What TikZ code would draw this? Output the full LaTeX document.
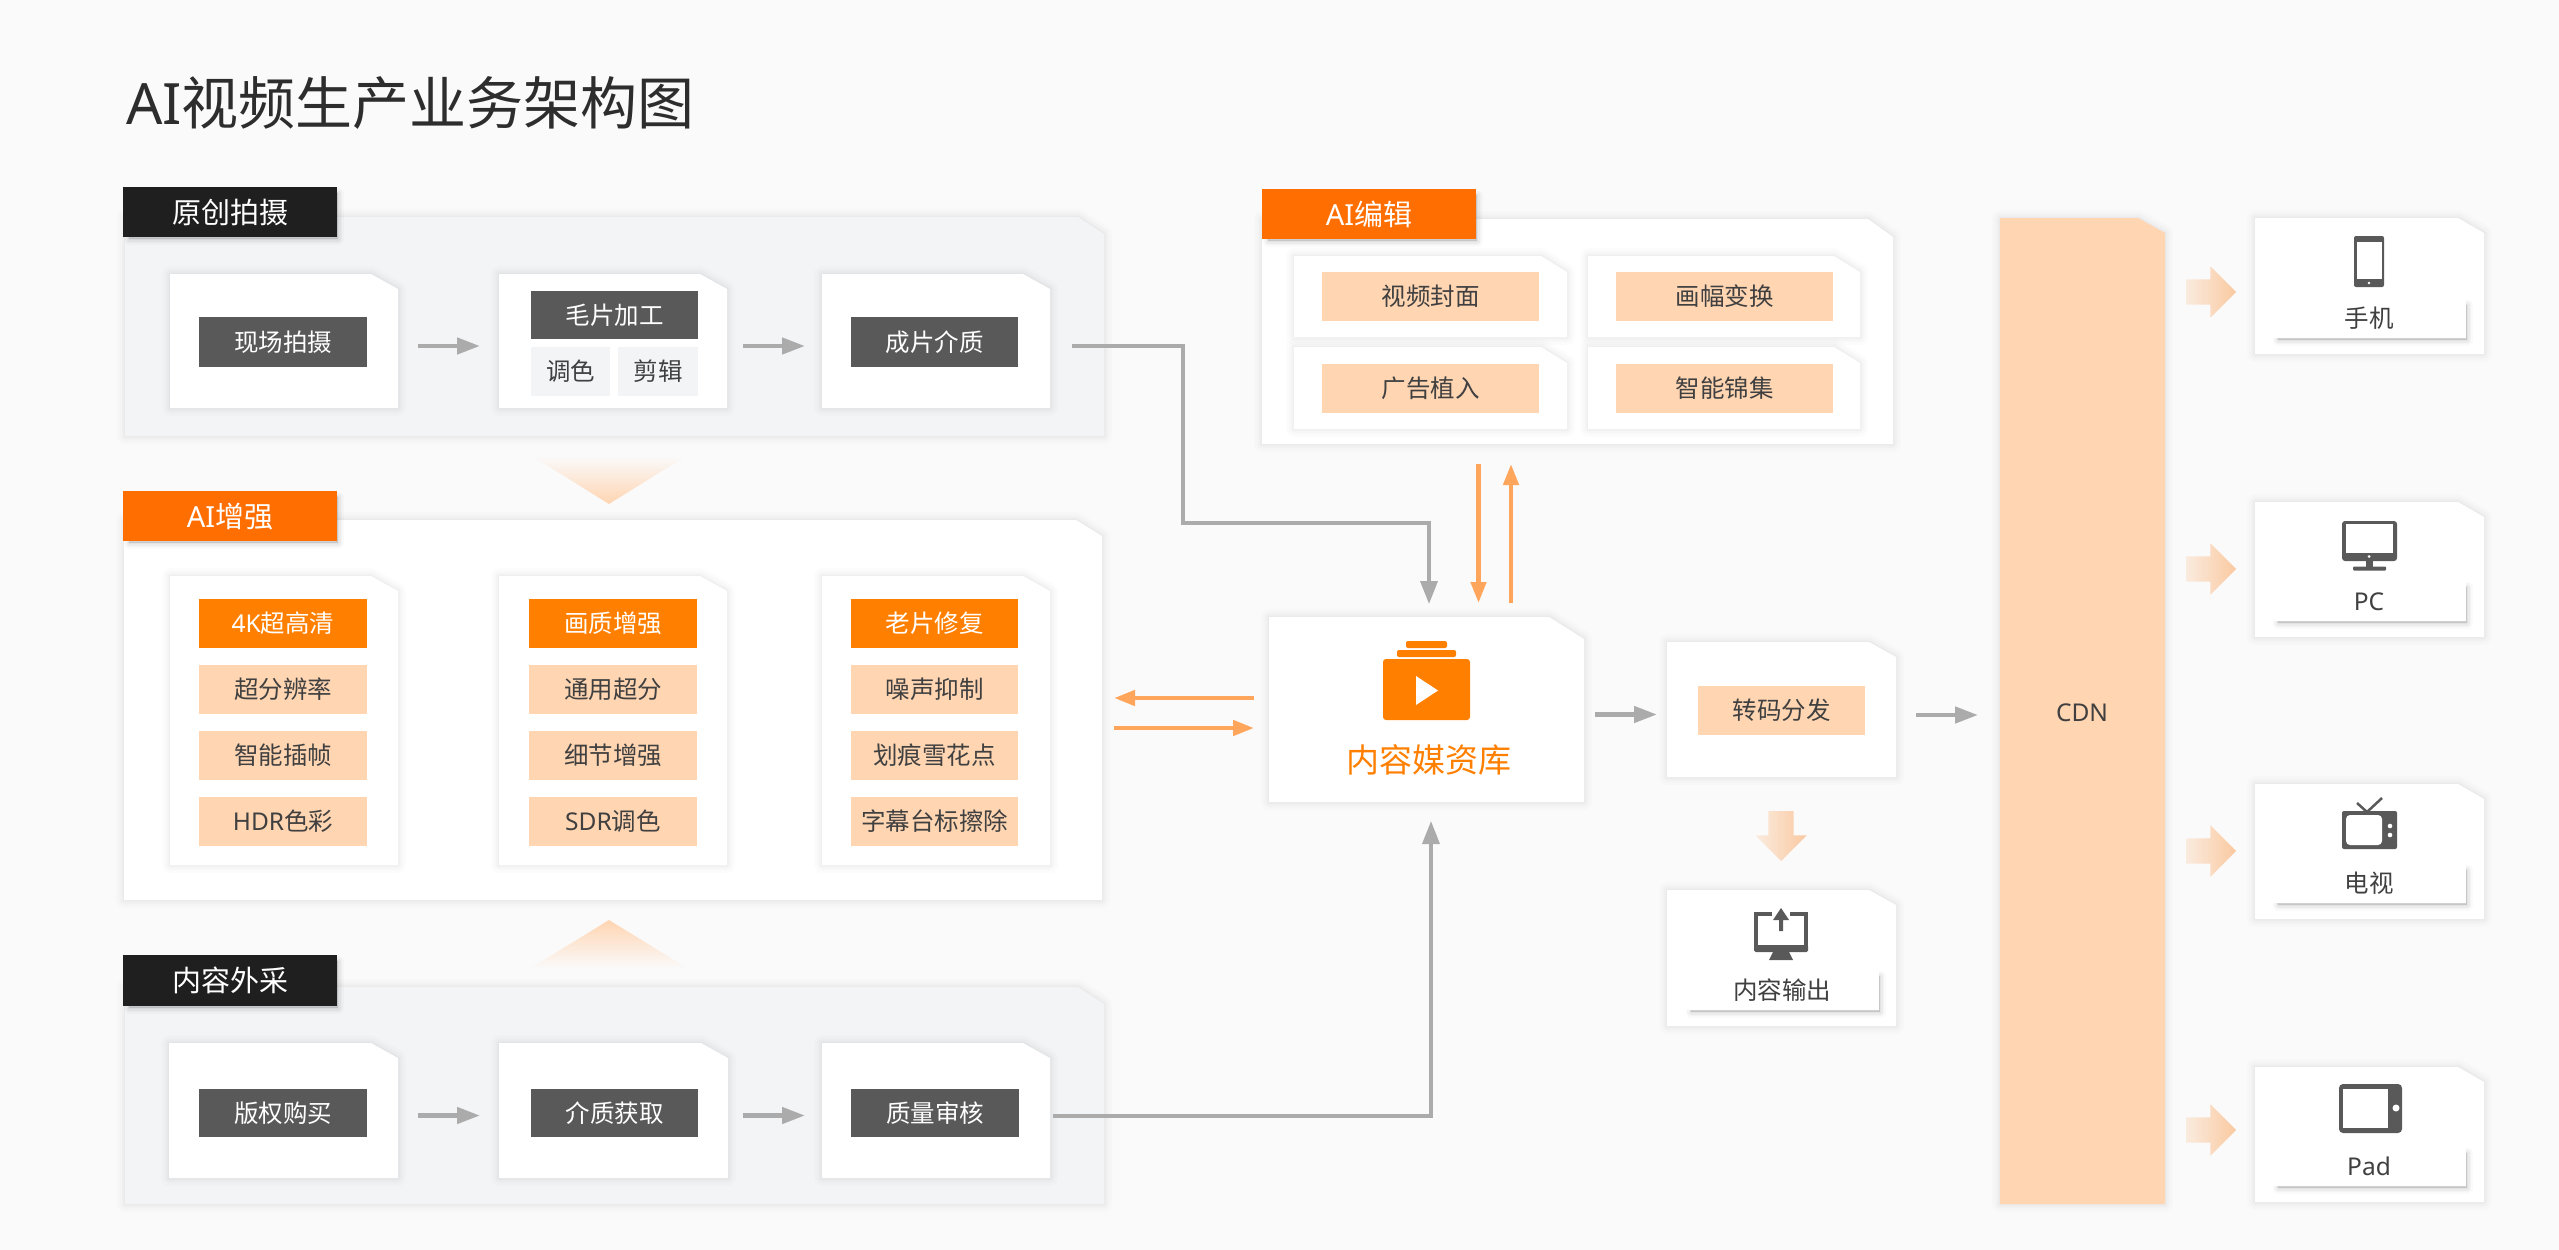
\documentclass[tikz,border=0pt]{standalone}
\usepackage{fontspec}
\setmainfont{Noto Sans CJK SC}
\newfontfamily\lat{Noto Sans}
\usetikzlibrary{arrows.meta,shapes.arrows,calc}
\definecolor{bgc}{HTML}{FAFAFA}
\definecolor{panelgrey}{HTML}{F3F4F6}
\definecolor{peach}{HTML}{FFD5B2}
\definecolor{fatc}{HTML}{FAC9A0}
\definecolor{tagorange}{HTML}{FF6E00}
\definecolor{boxorange}{HTML}{FF8000}
\definecolor{tagblack}{HTML}{1F1F1F}
\definecolor{boxdark}{HTML}{595959}
\definecolor{txt}{HTML}{404040}
\definecolor{greyarrow}{HTML}{ABABAB}
\definecolor{orangearrow}{HTML}{FFA55C}
\definecolor{icon}{HTML}{595959}
\tikzset{
  anchorbox/.style={inner sep=0pt,outer sep=0pt,draw=none,fill=none},
  basebox/.style={anchorbox,align=center,text height=19.6pt,text depth=1pt},
  tagtext/.style={font=\fontsize{29}{34}\selectfont,text=white,text height=23.2pt,text depth=1.2pt},
  tagblackbox/.style={basebox,tagtext,fill=tagblack},
  tagorangebox/.style={basebox,tagtext,fill=tagorange},
  darkbox/.style={basebox,font=\fontsize{24.5}{30}\selectfont,text=white,fill=boxdark},
  orangebox/.style={basebox,font=\fontsize{24.5}{30}\selectfont,text=white,fill=boxorange},
  peachbox/.style={basebox,font=\fontsize{24.5}{30}\selectfont,text=txt,fill=peach},
  greybox/.style={basebox,font=\fontsize{24.5}{30}\selectfont,text=txt,fill=panelgrey},
  whitebox/.style={basebox,font=\fontsize{24.5}{30}\selectfont,text=txt,fill=white},
  greyflow/.style={draw=greyarrow,line width=4.5pt,-{Triangle[length=23pt,width=16pt]}},
  greyline/.style={draw=greyarrow,line width=3.5pt,line join=miter,-{Triangle[length=23pt,width=17pt]}},
  orangeflow/.style={draw=orangearrow,line width=4.5pt,-{Triangle[length=21pt,width=15pt]}},
  fatarrow/.style={single arrow,inner sep=12.5pt,outer sep=0pt,minimum height=50pt,
    single arrow head extend=13pt,single arrow head indent=0pt,draw=none,anchor=tip,
    left color=fatc!30!bgc,middle color=fatc!80!bgc,right color=fatc},
  iconfill/.style={fill=icon,draw=none},
}
% name, x1,y1,x2,y2, cut x, cut y, fill
\newcommand{\cutbox}[8]{%
  \foreach \w/\o in {16/.010,11/.012,7/.016,3/.025}{%
    \draw[black,line width=\w pt,opacity=\o,line join=round]
      (#2,#3) -- ({#4-#6},#3) -- (#4,{#3+#7}) -- (#4,#5) -- (#2,#5) -- cycle;}
  \fill[#8] (#2,#3) -- ({#4-#6},#3) -- (#4,{#3+#7}) -- (#4,#5) -- (#2,#5) -- cycle;
  \node[anchorbox,minimum width={(#4-#2)*1pt},minimum height={(#5-#3)*1pt}] (#1) at ({(#2+#4)/2},{(#3+#5)/2}) {};
}
% name, x1,y1,x2,y2, style, text
\newcommand{\txtbox}[7]{%
  \node[#6,minimum width={(#4-#2)*1pt},minimum height={(#5-#3)*1pt}] (#1) at ({(#2+#4)/2},{(#3+#5)/2}) {#7};
}
% x1,y1,x2,y2: raised shadow, down and to the right
\newcommand{\raised}[4]{%
  \foreach \w/\o in {11/.02,8/.025,5/.03,2/.04}{%
    \draw[black,fill=black,line width=\w pt,opacity=\o,line join=round] ({#1+6},{#2+6}) rectangle ({#3+1},{#4+2});}
}
\begin{document}
\begin{tikzpicture}[x=1pt,y=-1pt]
\useasboundingbox (0,0) rectangle (2559,1250);
\fill[bgc] (0,0) rectangle (2559,1250);

\node[anchor=west,inner sep=0pt,font=\fontsize{57}{66}\selectfont,text=txt!70!black] (title) at (126,103) {{\lat AI}视频生产业务架构图};

% ---- panels
\cutbox{p1}{125}{217}{1104}{436}{26}{17}{panelgrey}
\cutbox{p2}{124}{520}{1102}{900}{26}{16}{white}
\cutbox{p3}{125}{987}{1104}{1204}{26}{17}{panelgrey}
\cutbox{p4}{1262}{219}{1893}{444}{25}{18}{white}

% ---- gradient triangles
\shade[top color=bgc,bottom color=peach] (532,456) -- (686,456) -- (609,504) -- cycle;
\shade[top color=peach,bottom color=bgc] (609,920) -- (687,968) -- (531,968) -- cycle;

% ---- tags
\raised{123}{187}{337}{237}
\txtbox{t1}{123}{187}{337}{237}{tagblackbox}{原创拍摄}
\raised{123}{491}{337}{541}
\txtbox{t2}{123}{491}{337}{541}{tagorangebox}{{\lat AI}增强}
\raised{123}{955}{337}{1006}
\txtbox{t3}{123}{955}{337}{1006}{tagblackbox}{内容外采}
\raised{1262}{189}{1476}{239}
\txtbox{t4}{1262}{189}{1476}{239}{tagorangebox}{{\lat AI}编辑}

% ---- row 1
\cutbox{a1}{170}{274}{398}{408}{27}{15}{white}
\cutbox{a2}{499}{274}{727}{408}{27}{15}{white}
\cutbox{a3}{822}{274}{1050}{408}{27}{15}{white}
\txtbox{a1t}{199}{317}{367}{367}{darkbox}{现场拍摄}
\txtbox{a2t}{531}{291}{698}{339}{darkbox}{毛片加工}
\txtbox{a2l}{531}{347}{610}{396}{greybox}{调色}
\txtbox{a2r}{618}{347}{698}{396}{greybox}{剪辑}
\txtbox{a3t}{851}{317}{1018}{367}{darkbox}{成片介质}

% ---- row 2
\cutbox{b1}{170}{576}{398}{865}{27}{15}{white}
\cutbox{b2}{499}{576}{727}{865}{27}{15}{white}
\cutbox{b3}{822}{576}{1050}{865}{27}{15}{white}
\txtbox{b11}{199}{599}{367}{648}{orangebox}{{\lat 4K}超高清}
\txtbox{b12}{199}{665}{367}{714}{peachbox}{超分辨率}
\txtbox{b13}{199}{731}{367}{780}{peachbox}{智能插帧}
\txtbox{b14}{199}{797}{367}{846}{peachbox}{{\lat HDR}色彩}
\txtbox{b21}{529}{599}{697}{648}{orangebox}{画质增强}
\txtbox{b22}{529}{665}{697}{714}{peachbox}{通用超分}
\txtbox{b23}{529}{731}{697}{780}{peachbox}{细节增强}
\txtbox{b24}{529}{797}{697}{846}{peachbox}{{\lat SDR}调色}
\txtbox{b31}{851}{599}{1018}{648}{orangebox}{老片修复}
\txtbox{b32}{851}{665}{1018}{714}{peachbox}{噪声抑制}
\txtbox{b33}{851}{731}{1018}{780}{peachbox}{划痕雪花点}
\txtbox{b34}{851}{797}{1018}{846}{peachbox}{字幕台标擦除}

% ---- row 3
\cutbox{c1}{169}{1043}{398}{1178}{27}{15}{white}
\cutbox{c2}{499}{1043}{728}{1178}{27}{15}{white}
\cutbox{c3}{822}{1043}{1050}{1178}{27}{15}{white}
\txtbox{c1t}{199}{1089}{367}{1137}{darkbox}{版权购买}
\txtbox{c2t}{531}{1089}{698}{1137}{darkbox}{介质获取}
\txtbox{c3t}{851}{1089}{1019}{1137}{darkbox}{质量审核}

% ---- AI edit
\cutbox{e1}{1294}{256}{1567}{337}{26}{16}{white}
\cutbox{e2}{1588}{256}{1860}{337}{26}{16}{white}
\cutbox{e3}{1294}{347}{1567}{429}{26}{16}{white}
\cutbox{e4}{1588}{347}{1860}{429}{26}{16}{white}
\txtbox{e1t}{1322}{272}{1539}{321}{peachbox}{视频封面}
\txtbox{e2t}{1616}{272}{1833}{321}{peachbox}{画幅变换}
\txtbox{e3t}{1322}{364}{1539}{413}{peachbox}{广告植入}
\txtbox{e4t}{1616}{364}{1833}{413}{peachbox}{智能锦集}

% ---- media library
\cutbox{m}{1269}{617}{1584}{802}{35}{22}{white}
\fill[boxorange,rounded corners=2pt] (1406,641) rectangle (1447,648);
\fill[boxorange,rounded corners=2pt] (1397,650) rectangle (1456,657);
\fill[boxorange,rounded corners=3pt] (1383,659) rectangle (1470,720);
\fill[white] (1416,676) -- (1438,690.5) -- (1416,705) -- cycle;
\node[inner sep=0pt,font=\fontsize{33}{38}\selectfont,text=boxorange,text height=26.4pt,text depth=1.3pt] (mt) at (1429,760) {内容媒资库};

% ---- transcode and output
\cutbox{x}{1667}{642}{1896}{777}{27}{15}{white}
\txtbox{xt}{1698}{686}{1865}{735}{peachbox}{转码分发}
\cutbox{o}{1667}{890}{1896}{1026}{27}{15}{white}
\draw[icon,line width=4pt] (1772,914) -- (1756,914) -- (1756,948) -- (1806,948) -- (1806,914) -- (1790,914);
\fill[icon,rounded corners=1.5pt] (1754,945) rectangle (1808,952);
\fill[icon] (1773,952) -- (1789,952) -- (1793,960) -- (1769,960) -- cycle;
\fill[icon] (1781,908) -- (1789,920) -- (1783,920) -- (1783,931) -- (1779,931) -- (1779,920) -- (1773,920) -- cycle;
\raised{1685}{970}{1879}{1010}
\txtbox{ot}{1685}{970}{1879}{1010}{whitebox}{内容输出}

% ---- CDN
\cutbox{cdn}{2000}{218}{2165}{1204}{27}{15}{peach}
\node[inner sep=0pt,font=\fontsize{24.5}{30}\selectfont\lat,text=txt] (cdnt) at (2082,713) {CDN};

% ---- devices
\cutbox{d1}{2255}{218}{2484}{354}{26}{15}{white}
\cutbox{d2}{2255}{502}{2484}{637}{26}{15}{white}
\cutbox{d3}{2255}{784}{2484}{919}{26}{15}{white}
\cutbox{d4}{2255}{1067}{2484}{1202}{26}{15}{white}
\raised{2272}{299}{2466}{338}
\txtbox{d1t}{2272}{299}{2466}{338}{whitebox}{手机}
\raised{2272}{581}{2466}{621}
\txtbox{d2t}{2272}{581}{2466}{621}{whitebox}{\lat PC}
\raised{2272}{864}{2466}{903}
\txtbox{d3t}{2272}{864}{2466}{903}{whitebox}{电视}
\raised{2272}{1147}{2466}{1186}
\txtbox{d4t}{2272}{1147}{2466}{1186}{whitebox}{\lat Pad}

% phone
\fill[icon,rounded corners=2pt] (2354,236) rectangle (2384,287);
\fill[white] (2357,242) rectangle (2382,279);
\fill[white] (2369,283) circle (1.3);
% pc
\fill[icon,rounded corners=3pt] (2342,521) rectangle (2397,561);
\fill[white] (2346,524) rectangle (2393,553);
\fill[white] (2369,556.5) circle (1.5);
\fill[icon] (2366,561) rectangle (2373,568);
\fill[icon,rounded corners=1pt] (2353,566.5) rectangle (2386,570.5);
% tv
\draw[icon,line width=2.5pt] (2357,803) -- (2367,812) -- (2382,798);
\fill[icon,rounded corners=2pt] (2342,811) rectangle (2397,849);
\fill[white,rounded corners=4pt] (2346,815) rectangle (2382,845);
\fill[white] (2390,826) circle (2.3);
\fill[white] (2390,835) circle (2.3);
% pad
\fill[icon,rounded corners=4pt] (2339,1084) rectangle (2402,1133);
\fill[white] (2343,1089) rectangle (2388,1128);
\fill[white] (2396,1108) circle (3.5);

% ---- fat gradient arrows
\node[fatarrow] (f1) at (2236,292) {};
\node[fatarrow] (f2) at (2236,569) {};
\node[fatarrow] (f3) at (2236,851) {};
\node[fatarrow] (f4) at (2236,1130) {};
\node[fatarrow,rotate=-90] (f5) at (1781,861) {};

% ---- connectors
\draw[greyflow,shorten <=20pt,shorten >=19pt] ([yshift=-5pt]a1.east) -- ([yshift=-5pt]a2.west);
\draw[greyflow,shorten <=16pt,shorten >=17pt] ([yshift=-5pt]a2.east) -- ([yshift=-5pt]a3.west);
\draw[greyflow,shorten <=20pt,shorten >=19pt] ([yshift=-5pt]c1.east) -- ([yshift=-5pt]c2.west);
\draw[greyflow,shorten <=15pt,shorten >=17pt] ([yshift=-5pt]c2.east) -- ([yshift=-5pt]c3.west);

\coordinate (r1) at (1183,346);
\coordinate (r2) at (1183,523);
\coordinate (r3) at (1429,523);
\coordinate (r4) at (1431,1116);
\draw[greyline,shorten <=22pt,shorten >=13pt] ([yshift=-5pt]a3.east) -- (r1) -- (r2) -- (r3) -- (r3|-m.north);
\draw[greyline,shorten <=3pt,shorten >=19pt] ([yshift=-5.5pt]c3.east) -- (r4) -- (r4|-m.south);

\draw[orangeflow,shorten <=19.6pt,shorten >=14pt] ([xshift=52pt]m.north|-p4.south) -- ([xshift=52pt]m.north);
\draw[orangeflow,shorten <=14pt,shorten >=20pt] ([xshift=84.5pt]m.north) -- ([xshift=84.5pt]m.north|-p4.south);
\draw[orangeflow,shorten <=15pt,shorten >=12pt] ([yshift=11.5pt]m.west) -- ([yshift=11.5pt]m.west-|p2.east);
\draw[orangeflow,shorten <=12pt,shorten >=15pt] ([yshift=-18.5pt]m.west-|p2.east) -- ([yshift=-18.5pt]m.west);
\draw[greyflow,shorten <=11pt,shorten >=10pt] ([yshift=-5pt]m.east) -- ([yshift=-5pt]x.west);
\draw[greyflow,shorten <=20pt,shorten >=22pt] ([yshift=-5.5pt]x.east) -- ([yshift=-4pt]cdn.west);
\end{tikzpicture}
\end{document}
